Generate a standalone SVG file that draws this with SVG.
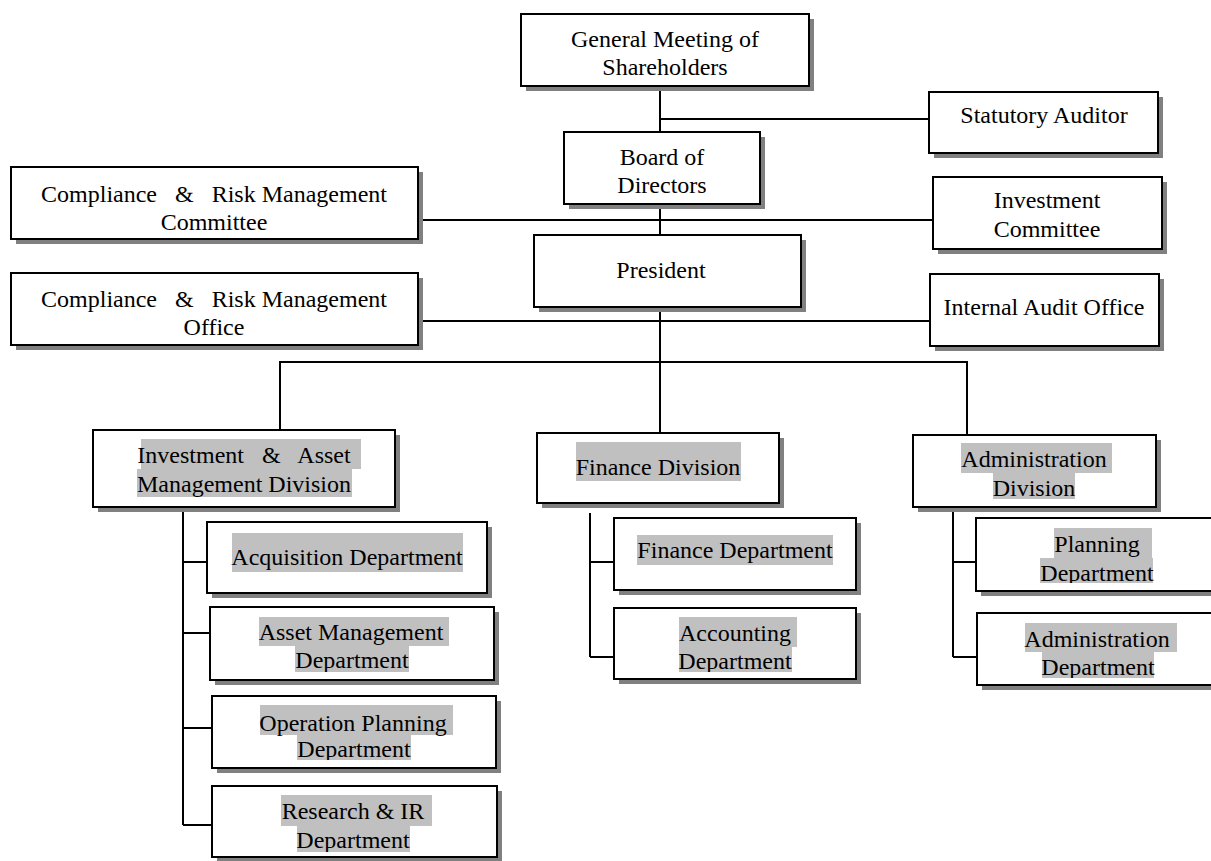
<svg xmlns="http://www.w3.org/2000/svg" width="1211" height="861" viewBox="0 0 1211 861">
<style>
.bg{fill:#ffffff}
.sh{fill:#808080}
.box{fill:#ffffff;stroke:#000000;stroke-width:2}
.hl{fill:#c0c0c0}
.t{font-family:"Liberation Serif","Times New Roman",serif;font-size:24px;fill:#000000;text-anchor:middle;white-space:pre}
.c{stroke:#000000;stroke-width:2;fill:none}
</style>
<defs>
<clipPath id="clip-am"><rect x="205" y="600" width="300" height="72"/></clipPath>
<clipPath id="clip-op"><rect x="205" y="690" width="300" height="70"/></clipPath>
<clipPath id="clip-rir"><rect x="205" y="780" width="300" height="72"/></clipPath>
<clipPath id="clip-acct"><rect x="610" y="600" width="250" height="72"/></clipPath>
<clipPath id="clip-plan"><rect x="970" y="510" width="250" height="73"/></clipPath>
<clipPath id="clip-admd"><rect x="970" y="605" width="250" height="73"/></clipPath>
</defs>
<rect class="bg" x="0" y="0" width="1211" height="861"/>

<g id="connectors">
<path class="c" d="M660,86 V132"/>
<path class="c" d="M660,119 H929"/>
<path class="c" d="M660,204 V235"/>
<path class="c" d="M418,220 H933"/>
<path class="c" d="M660,307 V433"/>
<path class="c" d="M418,321 H930"/>
<path class="c" d="M280,430 V362 H967 V435"/>
<path class="c" d="M183,507 V825"/>
<path class="c" d="M183,562 H207"/>
<path class="c" d="M183,633 H210"/>
<path class="c" d="M183,728 H212"/>
<path class="c" d="M183,825 H212"/>
<path class="c" d="M590,513 V657"/>
<path class="c" d="M590,562 H614"/>
<path class="c" d="M590,657 H614"/>
<path class="c" d="M953,507 V657"/>
<path class="c" d="M953,562 H976"/>
<path class="c" d="M953,657 H977"/>
</g>

<g id="general-meeting">
<rect class="sh" x="526" y="19" width="288" height="72"/>
<rect class="box" x="521" y="14" width="288" height="72"/>
<text class="t" x="665" y="47">General Meeting of</text>
<text class="t" x="665" y="75">Shareholders</text>
</g>

<g id="statutory-auditor">
<rect class="sh" x="934" y="97" width="229" height="61"/>
<rect class="box" x="929" y="92" width="229" height="61"/>
<text class="t" x="1044" y="123">Statutory Auditor</text>
</g>

<g id="board-of-directors">
<rect class="sh" x="569" y="137" width="196" height="72"/>
<rect class="box" x="564" y="132" width="196" height="72"/>
<text class="t" x="662" y="165">Board of</text>
<text class="t" x="662" y="193">Directors</text>
</g>

<g id="compliance-committee">
<rect class="sh" x="16" y="172" width="407" height="72"/>
<rect class="box" x="11" y="167" width="407" height="72"/>
<text class="t" x="214" y="202" xml:space="preserve">Compliance   &amp;   Risk Management</text>
<text class="t" x="214" y="230">Committee</text>
</g>

<g id="investment-committee">
<rect class="sh" x="938" y="182" width="229" height="72"/>
<rect class="box" x="933" y="177" width="229" height="72"/>
<text class="t" x="1047" y="208">Investment</text>
<text class="t" x="1047" y="237">Committee</text>
</g>

<g id="president">
<rect class="sh" x="539" y="240" width="267" height="72"/>
<rect class="box" x="534" y="235" width="267" height="72"/>
<text class="t" x="661" y="278">President</text>
</g>

<g id="compliance-office">
<rect class="sh" x="16" y="278" width="407" height="72"/>
<rect class="box" x="11" y="273" width="407" height="72"/>
<text class="t" x="214" y="307" xml:space="preserve">Compliance   &amp;   Risk Management</text>
<text class="t" x="214" y="335">Office</text>
</g>

<g id="internal-audit-office">
<rect class="sh" x="935" y="279" width="229" height="72"/>
<rect class="box" x="930" y="274" width="229" height="72"/>
<text class="t" x="1044" y="315">Internal Audit Office</text>
</g>

<g id="investment-asset-division">
<rect class="sh" x="98" y="435" width="302" height="77"/>
<rect class="box" x="93" y="430" width="302" height="77"/>
<rect class="hl" x="141" y="439" width="220" height="30"/>
<rect class="hl" x="137" y="469" width="215" height="28"/>
<text class="t" x="244" y="463" xml:space="preserve">Investment   &amp;   Asset</text>
<text class="t" x="244" y="492">Management Division</text>
</g>

<g id="finance-division">
<rect class="sh" x="542" y="438" width="242" height="70"/>
<rect class="box" x="537" y="433" width="242" height="70"/>
<rect class="hl" x="576" y="442" width="165" height="39"/>
<text class="t" x="658" y="475">Finance Division</text>
</g>

<g id="administration-division">
<rect class="sh" x="918" y="440" width="243" height="72"/>
<rect class="box" x="913" y="435" width="243" height="72"/>
<rect class="hl" x="961" y="443" width="151" height="30"/>
<rect class="hl" x="993" y="473" width="82" height="26"/>
<text class="t" x="1034" y="467">Administration</text>
<text class="t" x="1034" y="496">Division</text>
</g>

<g id="acquisition-department">
<rect class="sh" x="212" y="527" width="280" height="71"/>
<rect class="box" x="207" y="522" width="280" height="71"/>
<rect class="hl" x="232" y="533" width="231" height="39"/>
<text class="t" x="347" y="565">Acquisition Department</text>
</g>

<g id="asset-management-department">
<rect class="sh" x="215" y="612" width="284" height="73"/>
<rect class="box" x="210" y="607" width="284" height="73"/>
<rect class="hl" x="259" y="617" width="190" height="29"/>
<rect class="hl" x="295" y="646" width="114" height="26"/>
<g clip-path="url(#clip-am)">
<text class="t" x="351" y="640">Asset Management</text>
<text class="t" x="352" y="668">Department</text>
</g>
</g>

<g id="operation-planning-department">
<rect class="sh" x="217" y="701" width="284" height="72"/>
<rect class="box" x="212" y="696" width="284" height="72"/>
<rect class="hl" x="260" y="705" width="193" height="30"/>
<rect class="hl" x="297" y="735" width="114" height="25"/>
<g clip-path="url(#clip-op)">
<text class="t" x="353" y="731">Operation Planning</text>
<text class="t" x="354" y="757">Department</text>
</g>
</g>

<g id="research-ir-department">
<rect class="sh" x="217" y="791" width="285" height="71"/>
<rect class="box" x="212" y="786" width="285" height="71"/>
<rect class="hl" x="281" y="795" width="151" height="31"/>
<rect class="hl" x="297" y="826" width="113" height="26"/>
<g clip-path="url(#clip-rir)">
<text class="t" x="353" y="819">Research &amp; IR</text>
<text class="t" x="353" y="848">Department</text>
</g>
</g>

<g id="finance-department">
<rect class="sh" x="619" y="523" width="242" height="72"/>
<rect class="box" x="614" y="518" width="242" height="72"/>
<rect class="hl" x="637" y="535" width="196" height="30"/>
<text class="t" x="735" y="558">Finance Department</text>
</g>

<g id="accounting-department">
<rect class="sh" x="619" y="613" width="242" height="71"/>
<rect class="box" x="614" y="608" width="242" height="71"/>
<rect class="hl" x="679" y="617" width="118" height="30"/>
<rect class="hl" x="679" y="647" width="113" height="25"/>
<g clip-path="url(#clip-acct)">
<text class="t" x="735" y="641">Accounting</text>
<text class="t" x="735" y="669">Department</text>
</g>
</g>

<g id="planning-department">
<rect class="sh" x="981" y="523" width="241" height="73"/>
<rect class="box" x="976" y="518" width="241" height="73"/>
<rect class="hl" x="1054" y="528" width="98" height="30"/>
<rect class="hl" x="1040" y="558" width="113" height="25"/>
<g clip-path="url(#clip-plan)">
<text class="t" x="1097" y="552">Planning</text>
<text class="t" x="1097" y="581">Department</text>
</g>
</g>

<g id="administration-department">
<rect class="sh" x="982" y="618" width="241" height="72"/>
<rect class="box" x="977" y="613" width="241" height="72"/>
<rect class="hl" x="1025" y="623" width="152" height="29"/>
<rect class="hl" x="1042" y="652" width="112" height="26"/>
<g clip-path="url(#clip-admd)">
<text class="t" x="1097" y="647">Administration</text>
<text class="t" x="1098" y="675">Department</text>
</g>
</g>
</svg>
